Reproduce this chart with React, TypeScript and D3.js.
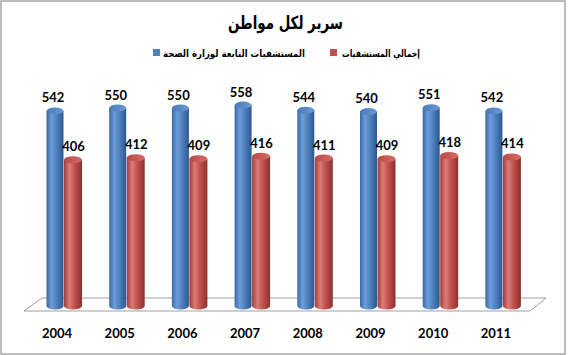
import React, { useEffect } from "react";
import * as d3 from "d3";

const years = ["2004", "2005", "2006", "2007", "2008", "2009", "2010", "2011"];
const ministryBeds = [542, 550, 550, 558, 544, 540, 551, 542];
const totalBeds = [406, 412, 409, 416, 411, 409, 418, 414];
const seriesNames = ["المستشفيات التابعة لوزارة الصحة", "إجمالي المستشفيات"];
const title = "سرير لكل مواطن";

const W = 570;
const H = 355;
const BASE = 306;
const RY = 3.5;

export default function App() {
  useEffect(() => {
    document.body.style.margin = "0";
  }, []);

  const x = d3.scaleBand<string>().domain(years).range([32.65, 534.25]);
  const inner = d3.scaleBand<string>().domain(["m", "t"]).range([0, 35]);
  const y = d3.scaleLinear().domain([0, 600]).range([BASE, 90]);

  const cyl = (x0: number, w: number, v: number, id: string, key: string) => {
    const top = y(v);
    const rx = w / 2;
    const body = `M${x0},${top} L${x0},${BASE} A${rx},${RY} 0 0 0 ${x0 + w},${BASE} L${x0 + w},${top} Z`;
    return (
      <g key={key}>
        <path d={body} fill={`url(#${id}Body)`} />
        <ellipse cx={x0 + rx} cy={top} rx={rx} ry={RY} fill={`url(#${id}Top)`} />
      </g>
    );
  };

  const numFont = "Lato, 'DejaVu Sans', sans-serif";
  const arFont = "'DejaVu Sans', sans-serif";

  return (
    <svg width={W} height={H} style={{ display: "block" }}>
      <defs>
        <linearGradient id="blueBody" x1="0" x2="1" y1="0" y2="0">
          <stop offset="0" stopColor="#3b68a4" />
          <stop offset="0.3" stopColor="#6c9ddb" />
          <stop offset="0.6" stopColor="#4f81bd" />
          <stop offset="1" stopColor="#2c5790" />
        </linearGradient>
        <linearGradient id="blueTop" x1="0" x2="1" y1="0" y2="0">
          <stop offset="0" stopColor="#4a7bb9" />
          <stop offset="1" stopColor="#6a98d2" />
        </linearGradient>
        <linearGradient id="redBody" x1="0" x2="1" y1="0" y2="0">
          <stop offset="0" stopColor="#a23b38" />
          <stop offset="0.3" stopColor="#db7c78" />
          <stop offset="0.6" stopColor="#c0504d" />
          <stop offset="1" stopColor="#8a312e" />
        </linearGradient>
        <linearGradient id="redTop" x1="0" x2="1" y1="0" y2="0">
          <stop offset="0" stopColor="#b84a47" />
          <stop offset="1" stopColor="#d46c68" />
        </linearGradient>
      </defs>
      <rect x={0} y={0} width={W} height={H} fill="#fff" />
      <rect x={1} y={1} width={564} height={353} fill="none" stroke="#a6a6a6" strokeWidth={1.5} />

      <text x={285.5} y={29} textAnchor="middle" fontFamily={arFont} fontWeight="bold" fontSize={18} fill="#000" direction="rtl" textLength={115} lengthAdjust="spacingAndGlyphs">
        {title}
      </text>

      <rect x={153} y={49} width={7} height={7} fill="#4f81bd" />
      <text x={234} y={57} textAnchor="middle" fontFamily={arFont} fontWeight="bold" fontSize={10} fill="#000" direction="rtl" textLength={142} lengthAdjust="spacingAndGlyphs">
        {seriesNames[0]}
      </text>
      <rect x={330} y={49} width={7} height={7} fill="#c0504d" />
      <text x={381} y={57} textAnchor="middle" fontFamily={arFont} fontWeight="bold" fontSize={10} fill="#000" direction="rtl" textLength={78} lengthAdjust="spacingAndGlyphs">
        {seriesNames[1]}
      </text>

      <polygon points="24,311 530,311 546,298 42,298" fill="#fff" stroke="#a0a0a0" strokeWidth={1} />

      {years.map((yr, i) => {
        const c = (x(yr) as number) + x.bandwidth() / 2 - 17.5;
        const bx = c + (inner("m") as number);
        const rx = c + (inner("t") as number);
        const bw = inner.bandwidth() - 0.5;
        return (
          <g key={yr}>
            {cyl(bx, bw, ministryBeds[i], "blue", "b")}
            {cyl(rx, bw + 1, totalBeds[i], "red", "r")}
            <text x={bx + bw / 2 - 2} y={y(ministryBeds[i]) - RY - 5} textAnchor="middle" fontFamily={numFont} fontWeight="bold" fontSize={13} fill="#000">
              {ministryBeds[i]}
            </text>
            <text x={rx + bw / 2 + 1} y={y(totalBeds[i]) - RY - 5} textAnchor="middle" fontFamily={numFont} fontWeight="bold" fontSize={13} fill="#000">
              {totalBeds[i]}
            </text>
            <text x={(x(yr) as number) + x.bandwidth() / 2 - 7} y={338} textAnchor="middle" fontFamily={numFont} fontWeight="bold" fontSize={13} fill="#000">
              {yr}
            </text>
          </g>
        );
      })}
    </svg>
  );
}
